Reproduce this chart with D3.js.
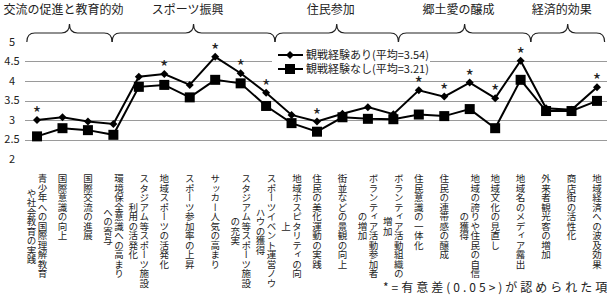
<!DOCTYPE html>
<html>
<head>
<meta charset="utf-8">
<script src="https://cdn.jsdelivr.net/npm/d3@7.9.0/dist/d3.min.js"></script>
<style>
  body { margin: 0; background: #fff; }
  text { font-family: "Noto Sans CJK JP", "Noto Sans", sans-serif; fill: #222; }
</style>
</head>
<body>
<div id="chart"></div>
<script>
// category labels (each entry = lines of the vertical label)
const categories = [
    ['青少年への国際理解教育', 'や社会教育の実践'],
    ['国際意識の向上'],
    ['国際交流の進展'],
    ['環境保全意識への高まり', 'への寄与'],
    ['スタジアム等スポーツ施設', '利用の活発化'],
    ['地域スポーツの活発化'],
    ['スポーツ参加率の上昇'],
    ['サッカー人気の高まり'],
    ['スタジアム等スポーツ施設', 'の充実'],
    ['スポーツイベント運営ノウ', 'ハウの獲得'],
    ['地域ホスピタリティの向', '上'],
    ['住民の美化運動の実践'],
    ['街並などの景観の向上'],
    ['ボランティア活動参加者', 'の増加'],
    ['ボランティア活動組織の', '増加'],
    ['住民意識の一体化'],
    ['住民の連帯感の醸成'],
    ['地域の誇りや住民の自信', 'の獲得'],
    ['地域文化の見直し'],
    ['地域名のメディア露出'],
    ['外来者観光客の増加'],
    ['商店街の活性化'],
    ['地域経済への波及効果']
];

const withExp = [3.0, 3.07, 2.96, 2.9, 4.11, 4.18, 3.9, 4.62, 4.2, 3.7, 3.13, 2.96,
    3.16, 3.33, 3.15, 3.76, 3.6, 3.96, 3.56, 4.52, 3.3, 3.26, 3.84];
const withoutExp = [2.58, 2.79, 2.74, 2.62, 3.85, 3.9, 3.58, 4.03, 3.94, 3.36, 2.92, 2.7,
    3.07, 3.03, 3.02, 3.14, 3.1, 3.28, 2.79, 4.03, 3.23, 3.23, 3.49];
const significant = [1, 0, 0, 0, 0, 1, 0, 1, 1, 1, 0, 1, 0, 0, 0, 1, 1, 1, 1, 1, 0, 0, 1];

const seriesNames = ['観戦経験あり(平均=3.54)', '観戦経験なし(平均=3.21)'];
const groupNames = ['交流の促進と教育的効', 'スポーツ振興', '住民参加', '郷土愛の醸成', '経済的効果'];
const groupSizes = [4, 6, 5, 5, 3];
const yTicks = [2, 2.5, 3, 3.5, 4, 4.5, 5];
const note = '*=有意差(0.05>)が認められた項目';

// brace edges, in category-index units (hand drawn in the original)
const BRACE_EDGES = [-0.4, 2.95, 9.35, 14.2, 19.4, 22.3];

const width = 607;
const height = 298;

const svg = d3.select('#chart')
    .append('svg')
    .attr('width', width)
    .attr('height', height);

const idx = d3.range(categories.length);

const x = d3.scalePoint()
    .domain(idx)
    .range([24.3, 609.7])
    .padding(0.5);
const step = x.step();
const xi = i => x(0) + i * step;   // fractional index -> px

const y = d3.scaleLinear().domain([2, 5]).range([159, 42]);

// gridlines
svg.append('g')
    .attr('class', 'gridlines')
    .selectAll('line')
    .data(yTicks.filter(t => t > 2 && t < 5))
    .enter()
    .append('line')
    .attr('x1', 25)
    .attr('x2', width)
    .attr('y1', d => Math.round(y(d)) + 0.5)
    .attr('y2', d => Math.round(y(d)) + 0.5)
    .attr('stroke', '#9a9a9a')
    .attr('stroke-width', 1);

// y axis labels
svg.append('g')
    .attr('class', 'y-axis')
    .selectAll('text')
    .data(yTicks)
    .enter()
    .append('text')
    .attr('x', 12)
    .attr('y', d => y(d))
    .attr('dy', '0.35em')
    .attr('text-anchor', 'middle')
    .attr('font-size', '11px')
    .text(d => d);

// braces + group names
const braces = svg.append('g').attr('class', 'braces');
groupNames.forEach((name, g) => {
    const x0 = xi(BRACE_EDGES[g]);
    const x1 = xi(BRACE_EDGES[g + 1]);
    const mid = (x0 + x1) / 2;
    const yl = 33, ye = 42, yp = 24, r = 8;
    const p = `M${x0},${ye} Q${x0},${yl} ${x0 + r},${yl} L${mid - r},${yl} Q${mid},${yl} ${mid},${yp}` +
        ` Q${mid},${yl} ${mid + r},${yl} L${x1 - r},${yl} Q${x1},${yl} ${x1},${ye}`;
    braces.append('path')
        .attr('d', p)
        .attr('fill', 'none')
        .attr('stroke', '#222')
        .attr('stroke-width', 1.2);
    braces.append('text')
        .attr('x', mid - 6)
        .attr('y', 14)
        .attr('text-anchor', 'middle')
        .attr('font-size', '12px')
        .attr('fill', '#333')
        .text(name);
});

// legend background + entries
const legend = svg.append('g')
    .attr('class', 'legend');

legend.append('rect')
    .attr('x', 272)
    .attr('y', 45)
    .attr('width', 158)
    .attr('height', 31)
    .attr('fill', '#fff');

// lines
const line = d3.line()
    .x((d, i) => x(i))
    .y(d => y(d));

svg.append('path')
    .datum(withoutExp)
    .attr('d', line)
    .attr('fill', 'none')
    .attr('stroke', '#000')
    .attr('stroke-width', 2);

svg.append('path')
    .datum(withExp)
    .attr('d', line)
    .attr('fill', 'none')
    .attr('stroke', '#000')
    .attr('stroke-width', 2);

const diamond = (cx, cy, s) => `M${cx},${cy - s} L${cx + s},${cy} L${cx},${cy + s} L${cx - s},${cy} Z`;

svg.append('g')
    .selectAll('rect')
    .data(withoutExp)
    .enter()
    .append('rect')
    .attr('x', (d, i) => x(i) - 5)
    .attr('y', d => y(d) - 5)
    .attr('width', 10)
    .attr('height', 10)
    .attr('fill', '#000');

svg.append('g')
    .selectAll('path')
    .data(withExp)
    .enter()
    .append('path')
    .attr('d', (d, i) => diamond(x(i), y(d), 4))
    .attr('fill', '#000');

// significance stars
svg.append('g')
    .selectAll('text')
    .data(idx.filter(i => significant[i]))
    .enter()
    .append('text')
    .attr('x', i => x(i))
    .attr('y', i => y(withExp[i]))
    .attr('text-anchor', 'middle')
    .attr('font-family', 'Liberation Sans')
    .attr('font-size', '18px')
    .text('*');

// legend entries
seriesNames.forEach((name, k) => {
    const ly = 55 + k * 14;
    legend.append('line')
        .attr('x1', 278).attr('x2', 303)
        .attr('y1', ly).attr('y2', ly)
        .attr('stroke', '#000')
        .attr('stroke-width', 2);
    if (k === 0) {
        legend.append('path').attr('d', diamond(290, ly, 4)).attr('fill', '#000');
    } else {
        legend.append('rect').attr('x', 285).attr('y', ly - 5)
            .attr('width', 10).attr('height', 10).attr('fill', '#000');
    }
    legend.append('text')
        .attr('x', 306)
        .attr('y', ly)
        .attr('dy', '0.35em')
        .attr('font-size', '11px')
        .text(name);
});

// vertical category labels
const pitch = 9.5;
const colGap = 11;
const labels = svg.append('g').attr('class', 'x-labels');
categories.forEach((lines, i) => {
    const maxLen = d3.max(lines, l => l.length);
    lines.forEach((l, j) => {
        const cx = x(i) + (lines.length - 1) * colGap / 2 - j * colGap;
        labels.append('text')
            .attr('x', cx)
            .attr('y', 174 + (maxLen - l.length) / 2 * pitch)
            .style('writing-mode', 'vertical-rl')
            .attr('font-size', pitch + 'px')
            .text(l);
    });
});

// note
svg.append('text')
    .attr('x', 383)
    .attr('y', 292)
    .attr('font-size', '12px')
    .attr('letter-spacing', '3px')
    .text(note);
</script>
</body>
</html>
